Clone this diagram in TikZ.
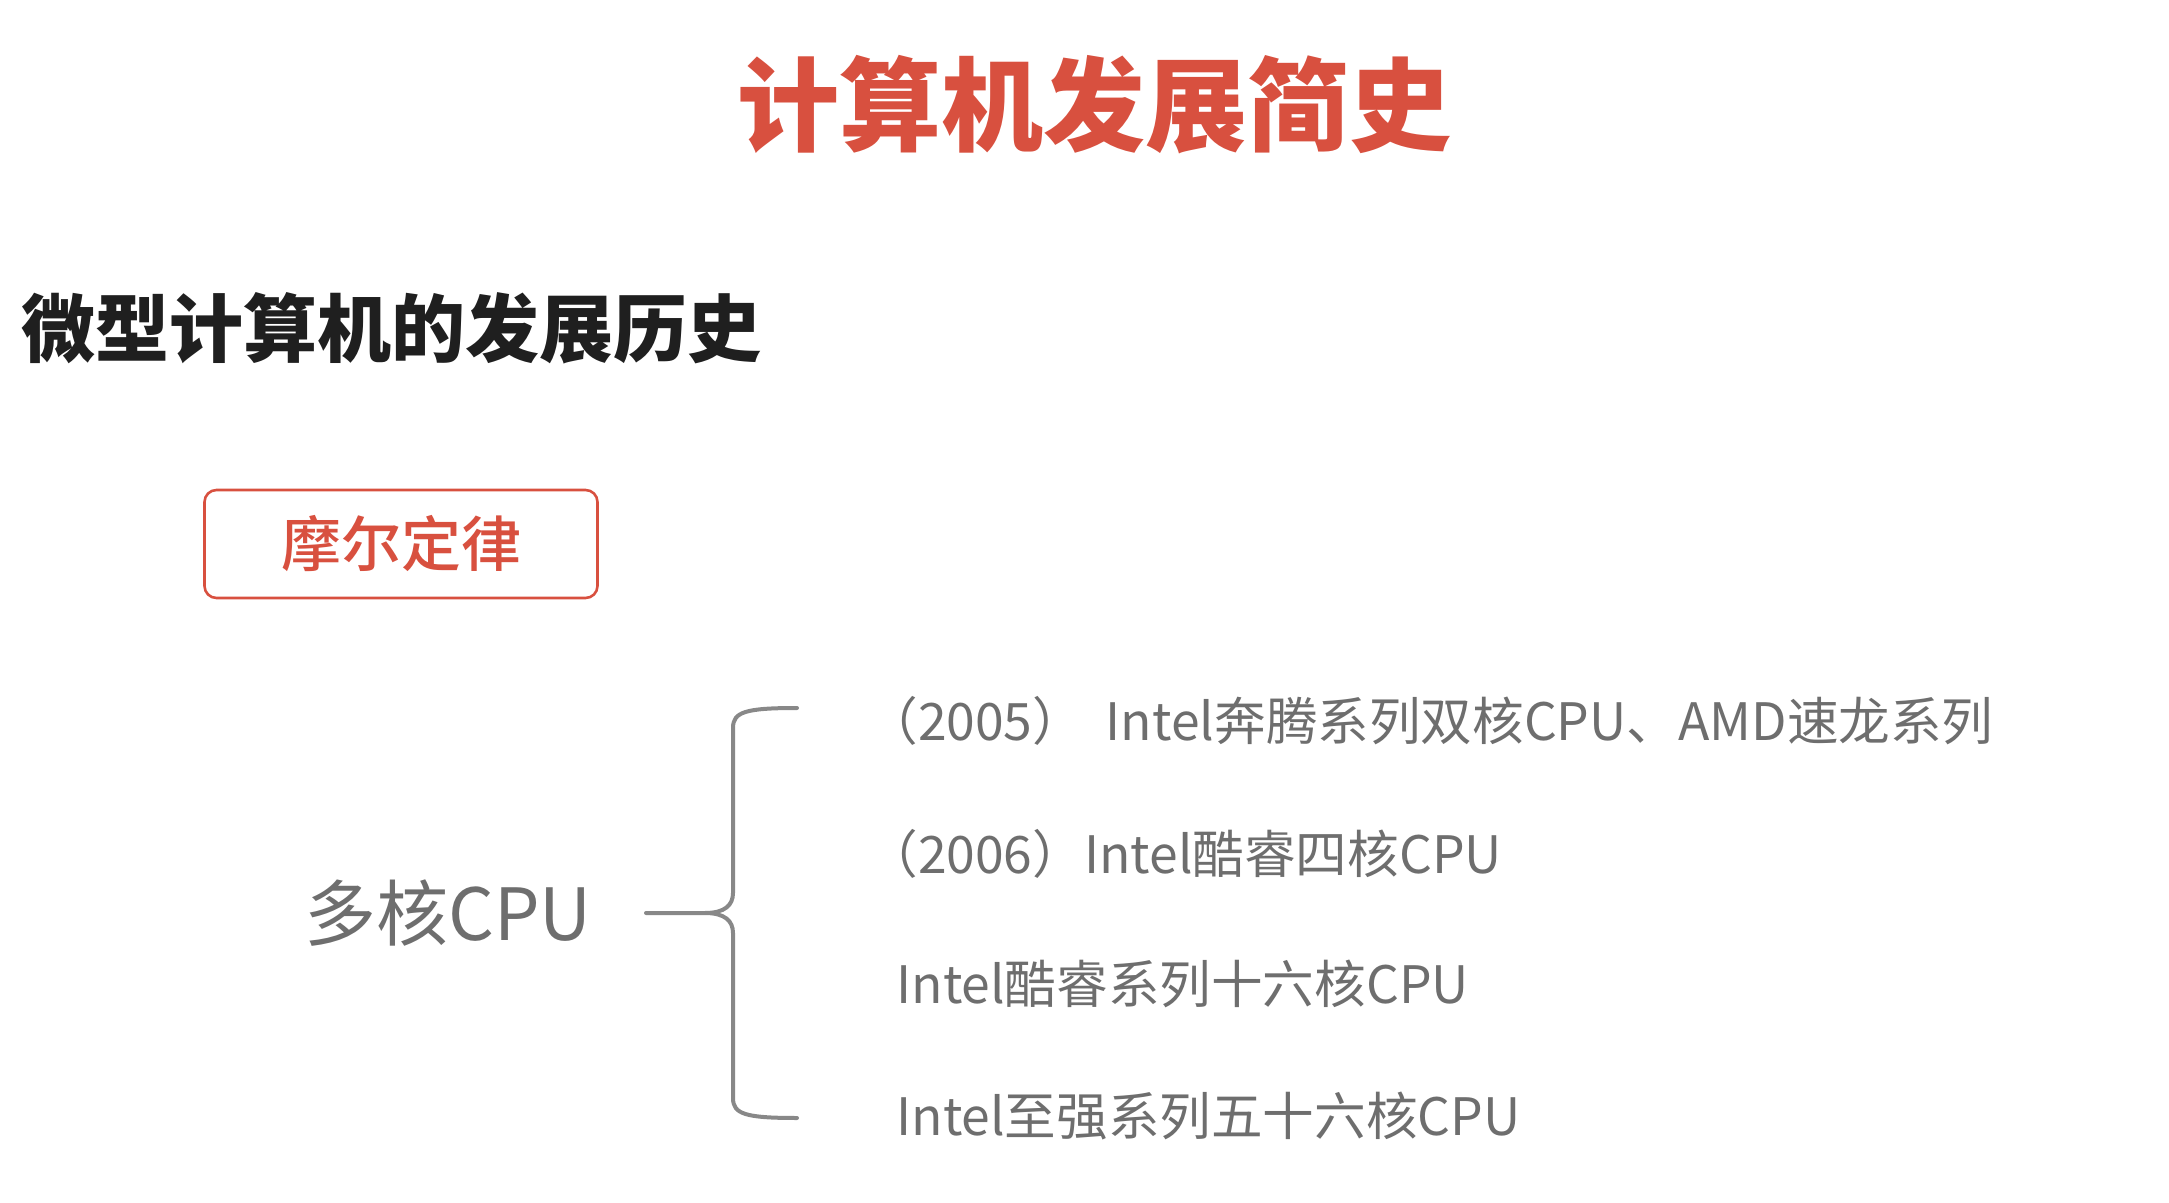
\documentclass[tikz,border=0pt]{standalone}
\usepackage{fontspec}
\usepackage{xcolor}
\usetikzlibrary{positioning}
\setmainfont{Noto Sans CJK SC}
\newfontfamily\heavyfont{Noto Sans CJK SC Black}
\newfontfamily\mediumfont{Noto Sans CJK SC Medium}

\definecolor{slidered}{HTML}{D8503F}
\definecolor{textgray}{HTML}{6E6E6E}
\definecolor{bracegray}{HTML}{888888}

\tikzset{
  heading/.style={inner sep=0pt,font=\fontsize{51}{60}\heavyfont,text=slidered},
  subhead/.style={inner sep=0pt,anchor=west,font=\fontsize{37}{44}\bfseries,text=black!88},
  lawbox/.style={draw=slidered,line width=1.3pt,rounded corners=6pt,minimum width=196.5pt,
    minimum height=54pt,font=\fontsize{30}{36}\mediumfont,text=slidered},
  item/.style={inner sep=0pt,anchor=west,font=\fontsize{25.8}{31}\selectfont,text=textgray},
  brace/.style={draw=bracegray,line width=2pt,line cap=round}
}

\begin{document}
\begin{tikzpicture}[x=0.5pt,y=-0.5pt]
    \useasboundingbox (0,0) rectangle (2169,1203);

    \node[heading] (title) at (1094,105) {计算机发展简史};
    \node[subhead] (micro) at (21,328) {微型计算机的发展历史};
    \node[lawbox] (moore) at (401,544) {摩尔定律};

    \node[item,font=\fontsize{36}{43}\selectfont,anchor=east] (cpu) at (592,913) {多核CPU};
    \node[item] (dual) at (896,721) {\kern-0.58em（2005）\hspace{0.42em}Intel奔腾系列双核CPU、AMD速龙系列};
    \node[item] (quad) [below=66.5pt of dual.west,anchor=west] {\kern-0.58em（2006）Intel酷睿四核CPU};
    \node[item] (sixteen) [below=65pt of quad.west,anchor=west] {Intel酷睿系列十六核CPU};
    \node[item] (fiftysix) [below=66pt of sixteen.west,anchor=west] {Intel至强系列五十六核CPU};

    % the brace from the label to the list
    \coordinate (tip) at (705,913);
    \coordinate (top) at (797,708);
    \coordinate (bot) at (797,1118);
    \path[brace]
    ([xshift=27pt]cpu.east) -- (tip)
    (tip) .. controls (725,913) and (733,905) .. (733,893) -- (733,728)
        .. controls (733,712) and (745,708) .. (top)
    (tip) .. controls (725,913) and (733,921) .. (733,933) -- (733,1098)
        .. controls (733,1114) and (745,1118) .. (bot);
\end{tikzpicture}
\end{document}
